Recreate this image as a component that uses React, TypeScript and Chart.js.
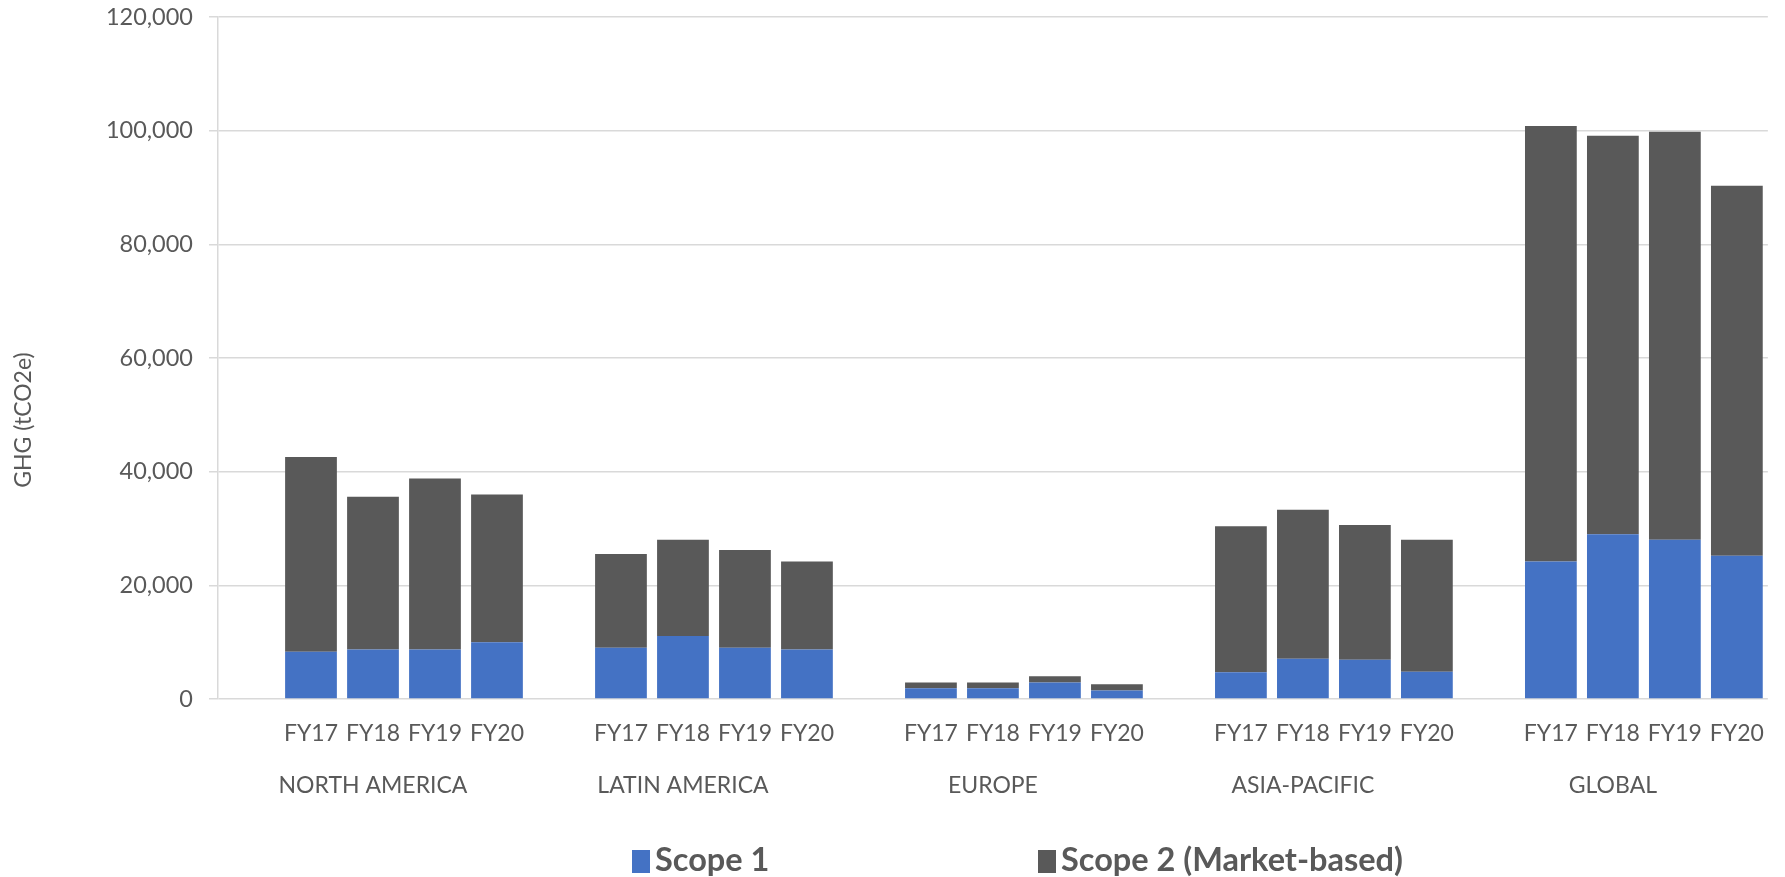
import React, { useEffect, useRef } from "react";
import { Chart, registerables } from "chart.js";

Chart.register(...registerables);

const regions = ["NORTH AMERICA", "LATIN AMERICA", "EUROPE", "ASIA-PACIFIC", "GLOBAL"];
const years = ["FY17", "FY18", "FY19", "FY20"];

const scope1NorthAmerica = [8300, 8700, 8700, 10000];
const scope1LatinAmerica = [9000, 11100, 9000, 8700];
const scope1Europe = [1900, 1900, 2900, 1500];
const scope1AsiaPacific = [4700, 7100, 6900, 4800];
const scope1Global = [24200, 29000, 28000, 25200];

const scope2NorthAmerica = [34300, 26900, 30100, 26000];
const scope2LatinAmerica = [16500, 16900, 17200, 15500];
const scope2Europe = [1000, 1000, 1100, 1100];
const scope2AsiaPacific = [25700, 26200, 23700, 23200];
const scope2Global = [76600, 70100, 71800, 65100];

const yTicksMax = 120000;
const yTickStep = 20000;

const scope1Series = [scope1NorthAmerica, scope1LatinAmerica, scope1Europe, scope1AsiaPacific, scope1Global];
const scope2Series = [scope2NorthAmerica, scope2LatinAmerica, scope2Europe, scope2AsiaPacific, scope2Global];

const BLUE = "#4472C4";
const GREY = "#595959";
const TEXT = "#595959";
const GRID = "#d9d9d9";
const FONT = "Lato, 'Open Sans', sans-serif";

// Build slotted category axis: one blank slot before each group of years
const labels: string[] = [];
const s1Data: (number | null)[] = [];
const s2Data: (number | null)[] = [];
const groupCenterIndex: number[] = [];
regions.forEach((_, r) => {
  labels.push("");
  s1Data.push(null);
  s2Data.push(null);
  groupCenterIndex.push(labels.length + 1);
  years.forEach((y, i) => {
    labels.push(y);
    s1Data.push(scope1Series[r][i]);
    s2Data.push(scope2Series[r][i]);
  });
});

const extrasPlugin = {
  id: "extras",
  afterDraw(chart: any) {
    const { ctx, chartArea, scales } = chart;
    const x = scales.x;
    ctx.save();
    ctx.fillStyle = TEXT;
    ctx.font = `23px ${FONT}`;
    ctx.textAlign = "center";
    ctx.textBaseline = "middle";
    regions.forEach((name, r) => {
      const px = x.getPixelForValue(groupCenterIndex[r]);
      ctx.fillText(name, px, chartArea.bottom + 87);
    });
    // y axis title
    ctx.translate(24, chartArea.top + (chartArea.bottom - chartArea.top) * 0.591);
    ctx.rotate(-Math.PI / 2);
    ctx.fillText("GHG (tCO2e)", 0, 0);
    ctx.restore();
  },
};

export default function App() {
  const canvasRef = useRef<HTMLCanvasElement | null>(null);

  useEffect(() => {
    if (!canvasRef.current) return;
    const chart = new Chart(canvasRef.current, {
      type: "bar",
      data: {
        labels,
        datasets: [
          {
            label: "Scope 1",
            data: s1Data,
            backgroundColor: BLUE,
            categoryPercentage: 1,
            barPercentage: 0.835,
          },
          {
            label: "Scope 2 (Market-based)",
            data: s2Data,
            backgroundColor: GREY,
            categoryPercentage: 1,
            barPercentage: 0.835,
          },
        ],
      },
      options: {
        animation: false,
        responsive: false,
        devicePixelRatio: 1,
        layout: { padding: { left: 0, top: 17, right: 6, bottom: 0 } },
        plugins: {
          legend: { display: false },
          tooltip: { enabled: false },
          title: { display: false },
        },
        scales: {
          x: {
            stacked: true,
            grid: { display: false, drawTicks: false },
            border: { display: false },
            ticks: {
              autoSkip: false,
              maxRotation: 0,
              color: TEXT,
              font: { family: FONT, size: 23 },
              padding: 21,
            },
            afterFit: (scale: any) => {
              scale.height = 178;
            },
          },
          y: {
            stacked: true,
            min: 0,
            max: yTicksMax,
            ticks: {
              stepSize: yTickStep,
              color: TEXT,
              font: { family: FONT, size: 23.5 },
              padding: 16,
              callback: (v: any) => Number(v).toLocaleString("en-US"),
            },
            grid: { color: GRID, lineWidth: 1.5, tickLength: 9 },
            border: { display: true, color: GRID, width: 1.5 },
            afterFit: (scale: any) => {
              scale.width = 218;
              scale.paddingTop = 14;
              scale.paddingBottom = 14;
            },
          },
        },
      },
      plugins: [extrasPlugin],
    });
    return () => chart.destroy();
  }, []);

  const legendText: React.CSSProperties = {
    fontFamily: FONT,
    fontWeight: 700,
    fontSize: 32.5,
    color: TEXT,
    lineHeight: "34px",
    whiteSpace: "nowrap",
  };
  const box = (c: string): React.CSSProperties => ({
    display: "inline-block",
    width: 18,
    height: 23,
    background: c,
    marginRight: 5,
    verticalAlign: "-2px",
  });

  return (
    <div style={{ position: "fixed", left: 0, top: 0, width: 1785, height: 877, background: "#fff" }}>
      <canvas ref={canvasRef} width={1785} height={877} style={{ display: "block" }} />
      <div style={{ position: "absolute", left: 632, top: 842, ...legendText }}>
        <span style={box(BLUE)} />
        Scope 1
      </div>
      <div style={{ position: "absolute", left: 1038, top: 842, ...legendText }}>
        <span style={box(GREY)} />
        Scope 2 (Market-based)
      </div>
    </div>
  );
}
